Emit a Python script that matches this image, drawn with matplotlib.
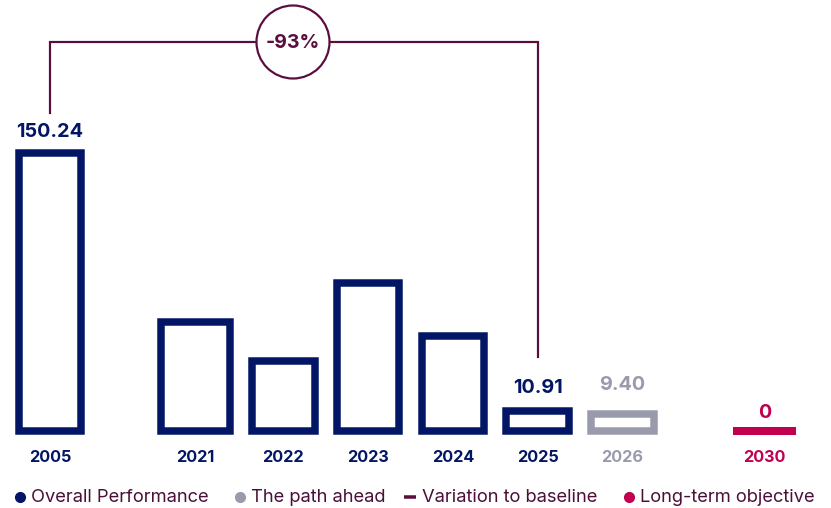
import matplotlib
matplotlib.use("Agg")
import matplotlib.pyplot as plt
from matplotlib.patches import Ellipse

plt.rcParams['font.family'] = ['Inter', 'DejaVu Sans']

# ---- data ----
years = ["2005", "2021", "2022", "2023", "2024", "2025", "2026", "2030"]
values = [150.24, 59.0, 38.0, 80.0, 51.5, 10.91, 9.40, 0.0]
value_labels = ["150.24", "", "", "", "", "10.91", "9.40", "0"]
series = ["perf", "perf", "perf", "perf", "perf", "perf", "path", "goal"]
variation_label = "-93%"
legend_labels = ["Overall Performance", "The path ahead", "Variation to baseline", "Long-term objective"]

# ---- layout / style ----
W, H = 831, 508
x_pos = [50, 195.3, 283.3, 368, 453, 537.5, 622.5, 764.5]
bar_widths = [62.5, 68.5, 62.5, 62.5, 62.5, 62.5, 62.5, 63]
PX_PER_UNIT = 1.85
BASE_PX = 431.3
NAVY = "#031665"
GREY = "#9a9aad"
PINK = "#c2004f"
PURPLE = "#5a0e3e"
LEG_TXT = "#4a1038"
colors = {"perf": NAVY, "path": GREY, "goal": PINK}

def py(p):
    """pixel row -> data value"""
    return (BASE_PX - p) / PX_PER_UNIT

def lw(px):
    return px * 72 / 100

fig = plt.figure(figsize=(W / 100, H / 100), dpi=100)
ax = fig.add_axes([0, 0, 1, 1])
ax.set_xlim(0, W)
ax.set_ylim(py(H), py(0))
ax.axis("off")

for x, v, s, bw in zip(x_pos, values, series, bar_widths):
    c = colors[s]
    if v > 0:
        ax.bar(x, v, width=bw, bottom=0, facecolor="white", edgecolor=c,
               linewidth=lw(7.5), zorder=3)
    else:
        ax.hlines(v, x - bw / 2, x + bw / 2, colors=c, linewidth=lw(8), zorder=3,
                  capstyle="butt")

# value labels
label_offsets_px = {"150.24": 21, "10.91": 23.5, "9.40": 28.5, "0": 18.5}
for x, v, lab, s in zip(x_pos, values, value_labels, series):
    if lab:
        yv = v + label_offsets_px[lab] / PX_PER_UNIT
        ax.text(x, yv, lab, ha="center", va="center", fontsize=14.3,
                fontweight="bold", color=colors[s], zorder=4)

# year labels
for x, yr, s in zip(x_pos, years, series):
    ax.text(x, py(457), yr, ha="center", va="center", fontsize=11.7,
            fontweight="bold", color=colors[s], zorder=4)

# variation bracket
x_left, x_right = x_pos[0], x_pos[5]
ax.plot([x_left, x_left, x_right, x_right], [py(113), py(42), py(42), py(357)],
        color=PURPLE, linewidth=lw(2.2), solid_joinstyle="miter", zorder=2)
r = 36.5
circ = Ellipse((293, py(42)), width=2 * r, height=2 * r / PX_PER_UNIT,
               facecolor="white", edgecolor=PURPLE, linewidth=lw(2.2), zorder=5)
ax.add_patch(circ)
ax.text(293, py(43), variation_label, ha="center", va="center", fontsize=14,
        fontweight="bold", color=PURPLE, zorder=6)

# legend (manual)
ly = py(497)
leg_items = [
    (20, 31, "dot", NAVY),
    (240, 251, "dot", GREY),
    (410, 422, "dash", PURPLE),
    (629, 640, "dot", PINK),
]
for (mx, tx, kind, c), lab in zip(leg_items, legend_labels):
    if kind == "dot":
        ax.plot([mx], [ly], marker="o", markersize=7, color=c, linestyle="none")
    else:
        ax.plot([mx - 6, mx + 6], [ly, ly], color=c, linewidth=lw(3.5),
                solid_capstyle="butt")
    ax.text(tx, ly, lab, ha="left", va="center", fontsize=13.2, color=LEG_TXT)

fig.savefig("out.png", dpi=100)
